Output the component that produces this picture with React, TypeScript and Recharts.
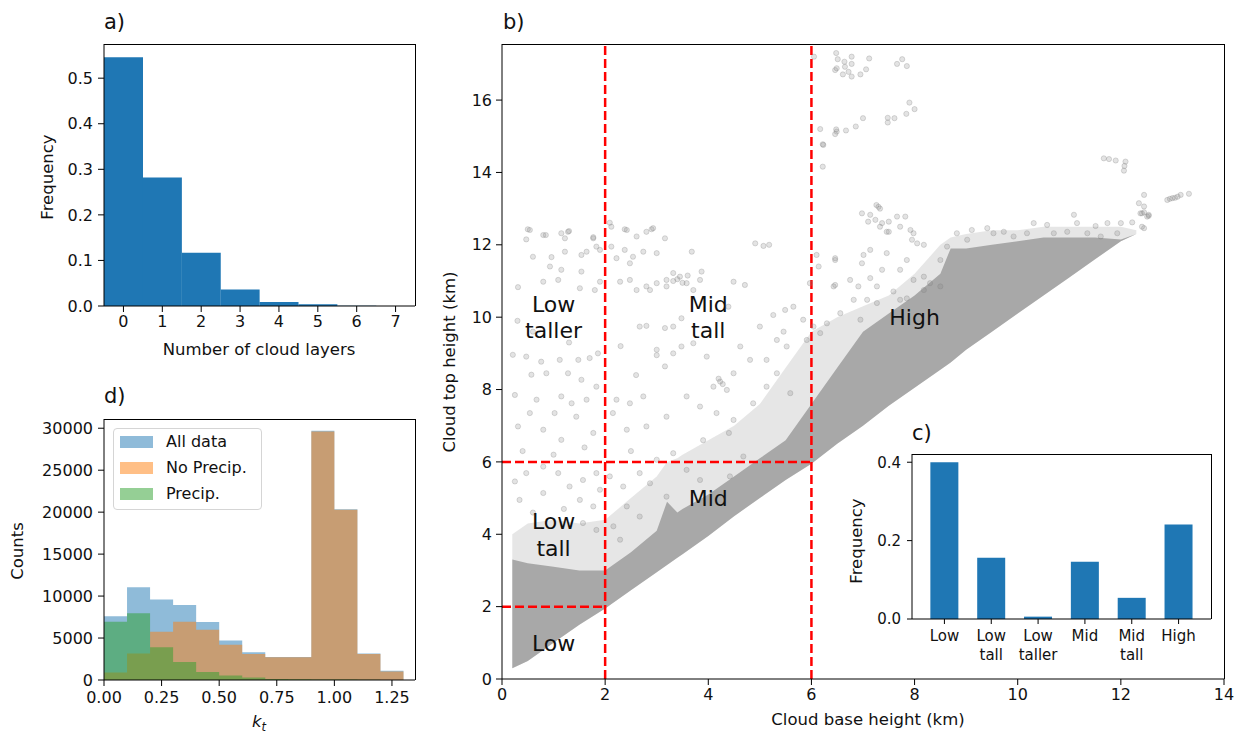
import React from "react";
import {
  BarChart,
  Bar,
  ComposedChart,
  Area,
  Scatter,
  XAxis,
  YAxis,
  ReferenceLine,
  ReferenceDot,
  Legend,
  CartesianGrid,
} from "recharts";

const FONT = "'DejaVu Sans', Verdana, sans-serif";
const INK = "#111";
const BLUE = "#1f77b4";

// a) number of cloud layers
const layerLabels = ["0", "1", "2", "3", "4", "5", "6", "7"];
const layerFreq = [0.546, 0.282, 0.117, 0.036, 0.009, 0.004, 0.0006, 0.0002];
const freqTicksA = [0, 0.1, 0.2, 0.3, 0.4, 0.5];

// d) clearness index histograms (bin edges, counts per bin)
const ktEdges = [0, 0.1, 0.2, 0.3, 0.4, 0.5, 0.6, 0.7, 0.8, 0.9, 1.0, 1.1, 1.2, 1.3];
const allCounts = [7600, 11050, 9600, 8950, 6900, 4700, 3300, 2750, 2750, 29700, 20350, 3150, 1100];
const noPrecipCounts = [900, 3150, 5750, 6950, 6000, 4200, 3100, 2700, 2700, 29600, 20300, 3100, 1000];
const precipCounts = [6950, 7950, 3900, 2150, 950, 550, 300, 120, 80, 60, 50, 30, 10];
const ktTicks = [0, 0.25, 0.5, 0.75, 1.0, 1.25];
const countTicks = [0, 5000, 10000, 15000, 20000, 25000, 30000];
const ktSeries = [
  { key: "all", name: "All data", color: "#1f77b4" },
  { key: "noPrecip", name: "No Precip.", color: "#ff7f0e" },
  { key: "precip", name: "Precip.", color: "#2ca02c" },
];

// c) frequency of cloud types
const cloudTypes = ["Low", "Low\ntall", "Low\ntaller", "Mid", "Mid\ntall", "High"];
const typeFreq = [0.4, 0.156, 0.006, 0.146, 0.054, 0.241];
const freqTicksC = [0, 0.2, 0.4];

// b) cloud base vs top: dense band (base, lower edge, core top, halo top)
const bandBase = [0.2, 0.5, 1, 1.5, 2, 2.5, 3, 3.2, 3.4, 3.5, 4, 4.5, 5, 5.5, 6, 6.5, 7, 7.5, 8, 8.5, 8.7, 9, 9.5, 10, 10.5, 11, 11.5, 12, 12.3];
const bandLow = [0.3, 0.5, 1.0, 1.5, 1.95, 2.45, 2.95, 3.15, 3.35, 3.45, 3.95, 4.5, 5.0, 5.5, 5.95, 6.5, 7.0, 7.55, 8.05, 8.55, 8.75, 9.1, 9.6, 10.1, 10.6, 11.1, 11.6, 12.1, 12.3];
const coreTop = [3.3, 3.2, 3.1, 3.0, 3.0, 3.5, 4.1, 4.9, 4.6, 4.7, 5.1, 5.6, 6.1, 6.6, 7.6, 8.6, 9.6, 10.1, 10.6, 11.2, 11.9, 11.9, 12.0, 12.1, 12.2, 12.2, 12.2, 12.15, 12.3];
const haloTop = [4.0, 4.3, 4.4, 4.3, 4.4, 5.0, 5.6, 6.0, 6.1, 6.2, 6.6, 7.0, 7.6, 8.6, 9.6, 10.0, 10.3, 10.6, 11.2, 12.0, 12.2, 12.3, 12.4, 12.4, 12.5, 12.5, 12.5, 12.5, 12.4];

// b) sparse points outside the dense band [base km, top km]
const sparsePoints: [number, number][] = [
  [6.48, 17.3], [6.78, 17.2], [7.12, 17.15], [6.51, 17.13], [6.64, 17.06], [6.78, 17.0], [6.49, 16.88], [6.65, 16.92],
  [6.61, 16.71], [6.78, 16.65], [6.95, 16.71], [7.06, 16.85], [6.72, 16.78], [7.66, 17.0], [7.76, 17.13], [7.85, 16.94],
  [6.05, 17.2], [6.46, 16.83],
  [6.17, 15.2], [6.22, 14.78], [6.22, 14.16], [6.48, 15.19], [6.46, 15.06], [6.67, 15.16], [6.86, 15.27], [7.0, 15.5],
  [7.48, 15.51], [7.61, 15.5], [7.48, 15.38], [7.84, 15.62], [7.9, 15.93], [8.0, 15.75], [6.23, 14.76], [6.49, 15.13],
  [11.67, 14.39], [11.77, 14.37], [11.9, 14.33], [12.09, 14.3], [12.07, 14.18], [12.06, 14.05],
  [12.9, 13.24], [13.0, 13.29], [13.1, 13.33], [13.16, 13.38], [13.32, 13.41], [12.95, 13.27], [13.05, 13.3],
  [12.45, 13.38], [12.35, 13.15], [12.45, 13.06], [12.54, 12.83], [12.41, 12.5], [12.45, 12.9], [12.41, 12.87],
  [12.54, 12.8], [12.45, 12.46],
  [6.98, 12.87], [7.14, 12.83], [7.26, 13.1], [7.33, 13.0], [7.24, 12.69], [7.37, 12.6], [7.5, 12.64], [7.66, 12.78],
  [7.82, 12.78], [7.92, 12.41], [7.98, 12.32], [7.72, 12.5], [7.5, 12.36], [7.1, 12.64], [7.3, 13.05], [7.33, 12.5],
  [7.46, 12.36], [7.95, 12.14], [8.05, 12.04], [8.18, 12.0],
  [9.11, 12.41], [9.41, 12.46], [9.73, 12.36], [10.31, 12.6], [10.57, 12.55], [11.09, 12.83], [11.15, 12.6],
  [11.51, 12.52], [11.74, 12.6], [12.0, 12.6], [12.22, 12.62], [12.38, 12.87], [12.51, 12.78],
  [0.5, 12.43], [0.47, 12.15], [0.8, 12.27], [1.15, 12.32], [1.28, 12.36], [0.6, 11.67], [0.96, 11.66], [1.22, 11.81],
  [1.54, 11.72], [1.64, 11.81], [1.77, 12.21], [1.83, 11.95], [1.9, 11.86], [0.93, 11.4], [1.15, 11.31], [1.54, 11.26],
  [0.8, 10.98], [1.09, 11.03], [0.31, 10.83], [1.51, 10.8], [1.8, 10.75], [1.9, 10.98], [0.54, 12.41], [0.85, 12.27],
  [1.22, 12.18], [1.3, 12.38], [1.77, 12.18],
  [2.12, 12.5], [2.42, 12.41], [2.61, 12.23], [2.8, 12.36], [2.93, 12.46], [2.12, 11.95], [2.38, 11.86], [2.54, 11.67],
  [2.74, 11.81], [3.0, 11.77], [3.16, 12.18], [3.68, 11.81], [2.22, 11.63], [2.48, 11.49], [2.29, 10.98], [2.48, 11.03],
  [2.61, 10.75], [2.8, 10.85], [3.0, 10.94], [3.19, 11.03], [3.32, 11.22], [3.45, 11.12], [3.19, 10.85], [3.58, 10.94],
  [3.84, 11.03], [3.87, 11.26], [3.32, 11.0], [3.71, 10.75], [4.49, 10.98], [4.71, 10.89], [4.91, 12.04], [5.07, 11.97],
  [5.18, 12.0], [2.87, 10.75], [2.09, 12.61], [2.38, 12.43], [2.9, 12.43], [3.4, 11.05], [3.5, 10.95], [3.6, 11.15],
  [2.67, 9.74], [2.8, 9.76], [3.16, 9.7], [3.32, 9.74], [3.48, 9.97], [4.39, 10.29], [5.0, 9.74], [5.26, 10.06],
  [5.49, 10.2], [5.65, 10.29], [5.46, 9.6],
  [0.21, 8.96], [0.47, 8.91], [0.76, 8.77], [1.12, 8.82], [1.48, 8.82], [1.7, 8.87], [1.86, 9.0], [0.57, 8.41],
  [0.86, 8.45], [1.28, 8.45], [1.54, 8.27], [0.25, 7.85], [0.67, 7.72], [1.15, 7.81], [1.35, 7.62], [1.64, 7.72],
  [1.83, 8.08], [0.54, 7.35], [1.02, 7.35], [1.44, 7.25], [0.31, 6.98], [0.8, 6.89], [1.15, 6.61], [1.77, 6.8],
  [0.4, 6.3], [1.0, 6.2], [1.6, 6.4], [0.6, 9.6], [1.3, 9.3], [0.3, 9.9],
  [2.22, 7.72], [2.48, 7.62], [2.74, 7.81], [3.0, 9.1], [3.0, 8.95], [3.16, 8.64], [3.32, 9.0], [3.48, 9.19],
  [3.71, 9.28], [3.97, 8.91], [4.23, 8.22], [4.1, 8.08], [4.36, 7.99], [4.49, 8.45], [4.62, 9.19], [4.81, 8.82],
  [5.13, 8.82], [5.33, 9.37], [5.52, 9.19], [3.84, 7.53], [4.16, 7.35], [4.49, 7.16], [3.58, 7.81], [3.19, 7.25],
  [2.8, 6.98], [2.42, 6.89], [2.15, 7.35], [4.87, 7.62], [5.13, 8.08], [5.33, 8.45], [5.59, 7.9], [2.6, 8.4],
  [2.3, 9.2], [4.2, 8.3], [4.28, 8.15],
  [0.25, 5.46], [0.47, 5.69], [0.8, 5.87], [1.09, 5.69], [1.31, 5.32], [1.57, 5.5], [1.83, 5.69], [0.34, 4.95],
  [0.8, 5.14], [1.51, 4.95], [1.77, 4.77], [1.9, 5.23], [1.57, 4.31], [1.83, 4.12], [0.6, 4.6], [1.2, 4.7],
  [2.09, 5.6], [2.35, 5.32], [2.67, 5.69], [2.87, 5.41], [2.42, 4.77], [2.67, 4.49], [2.16, 4.22], [2.29, 3.85],
  [3.0, 6.06], [3.32, 6.24], [3.58, 5.78], [3.84, 5.5], [3.19, 5.04], [4.42, 5.6], [4.68, 6.15], [2.5, 6.3],
  [3.9, 6.6], [4.4, 6.8],
  [6.46, 11.58], [7.01, 11.72], [7.14, 11.86], [7.46, 11.77], [7.85, 11.58], [6.98, 11.49], [7.37, 11.31], [6.75, 11.03],
  [6.91, 10.85], [7.14, 11.08], [7.27, 10.85], [7.72, 11.31], [7.98, 11.03], [8.18, 11.12], [6.46, 10.89], [7.59, 10.71],
  [7.85, 10.52], [7.72, 10.48], [8.18, 10.75], [7.08, 10.48], [6.82, 10.48], [7.27, 10.39], [6.56, 10.11], [6.3, 9.83],
  [6.04, 9.74], [6.95, 9.93], [5.84, 9.93], [5.91, 9.37], [6.17, 9.56], [8.63, 11.95], [8.5, 11.58], [8.3, 10.94],
  [8.5, 10.85], [8.82, 12.32], [9.02, 12.14], [9.53, 12.32], [9.92, 12.23], [10.18, 12.32], [10.7, 12.32],
  [10.96, 12.36], [11.35, 12.32], [11.61, 12.23], [11.93, 12.32], [6.1, 11.72], [6.14, 11.4], [6.46, 11.63],
  [6.43, 10.85], [5.97, 10.94],
];
const baseTicks = [0, 2, 4, 6, 8, 10, 12, 14];
const topTicks = [0, 2, 4, 6, 8, 10, 12, 14, 16];

// category boundaries (km)
const lowTop = 2;
const midTop = 6;
const lowBase = 2;
const highBase = 6;

const regionLabels = [
  { x: 1, y: 10, text: "Low\ntaller" },
  { x: 4, y: 10, text: "Mid\ntall" },
  { x: 8, y: 10, text: "High" },
  { x: 1, y: 4, text: "Low\ntall" },
  { x: 4, y: 5, text: "Mid" },
  { x: 1, y: 1, text: "Low" },
];

const layerRows = layerLabels.map((n, i) => ({ n, freq: layerFreq[i] }));
const ktRows = ktEdges.map((kt, i) => ({
  kt,
  all: allCounts[i] ?? 0,
  noPrecip: noPrecipCounts[i] ?? 0,
  precip: precipCounts[i] ?? 0,
}));
const typeRows = cloudTypes.map((t, i) => ({ t, freq: typeFreq[i] }));
const bandRows = bandBase.map((x, i) => ({
  x,
  core: [bandLow[i], coreTop[i]],
  halo: [bandLow[i], haloTop[i]],
}));
const sparseRows = sparsePoints.map(([x, y]) => ({ x, y }));

const tickStyle = { fontSize: 16, fill: INK, fontFamily: FONT };
const frameLine = { stroke: "#000", strokeWidth: 1 };
const tickLine = { stroke: "#000", strokeWidth: 1 };

function Text({ x, y, size = 16.5, rotate = false, children }: any) {
  return (
    <div
      style={{
        position: "absolute",
        left: x,
        top: y,
        transform: `translate(-50%, -50%)${rotate ? " rotate(-90deg)" : ""}`,
        fontFamily: FONT,
        fontSize: size,
        color: INK,
        whiteSpace: "nowrap",
        lineHeight: 1,
      }}
    >
      {children}
    </div>
  );
}

function PanelTag({ x, y, children }: any) {
  return (
    <div
      style={{
        position: "absolute",
        left: x,
        top: y,
        fontFamily: FONT,
        fontSize: 21,
        color: INK,
        lineHeight: 1,
      }}
    >
      {children}
    </div>
  );
}

// top and right spines of an axes box
function Frame({ left, top, right, bottom }: any) {
  return (
    <div
      style={{
        position: "absolute",
        left,
        top: top - 0.5,
        width: right - left + 0.5,
        height: bottom - top,
        borderTop: "1px solid #000",
        borderRight: "1px solid #000",
        boxSizing: "border-box",
        pointerEvents: "none",
      }}
    />
  );
}

function RegionText({ cx, cy, text }: any) {
  const fs = 22;
  const lh = 26.5;
  const lines = String(text).split("\n");
  const total = 0.73 * fs + (lines.length - 1) * lh;
  const y0 = cy - total / 2 + 0.73 * fs;
  return (
    <text textAnchor="middle" fontSize={fs} fontFamily={FONT} fill={INK}>
      {lines.map((l, i) => (
        <tspan key={i} x={cx} y={y0 + i * lh}>
          {l}
        </tspan>
      ))}
    </text>
  );
}

function TypeTick({ x, y, payload }: any) {
  const lines = String(payload.value).split("\n");
  return (
    <text x={x} y={y} textAnchor="middle" fontSize={15} fontFamily={FONT} fill={INK}>
      {lines.map((l, i) => (
        <tspan key={i} x={x} dy={i === 0 ? "0.95em" : "1.25em"}>
          {l}
        </tspan>
      ))}
    </text>
  );
}

function Dot({ cx, cy }: any) {
  return (
    <circle
      cx={cx}
      cy={cy}
      r={2.6}
      fill="#808080"
      fillOpacity={0.22}
      stroke="#808080"
      strokeOpacity={0.28}
      strokeWidth={1}
    />
  );
}

function KtLegend() {
  return (
    <div
      style={{
        width: 149,
        boxSizing: "border-box",
        background: "rgba(255,255,255,0.8)",
        border: "1px solid #d5d5d5",
        borderRadius: 4,
        padding: "0 6px 2px 6px",
        fontFamily: FONT,
        fontSize: 16,
        color: INK,
      }}
    >
      {ktSeries.map((s) => (
        <div key={s.key} style={{ display: "flex", alignItems: "center", height: 26 }}>
          <span
            style={{
              display: "inline-block",
              width: 33,
              height: 12,
              background: s.color,
              opacity: 0.5,
              marginRight: 13,
            }}
          />
          <span>{s.name}</span>
        </div>
      ))}
    </div>
  );
}

function LayersPanel() {
  return (
    <div style={{ position: "absolute", left: 0, top: 0 }}>
      <BarChart
        width={430}
        height={340}
        data={layerRows}
        margin={{ top: 44, right: 15, bottom: 4, left: 44 }}
        barCategoryGap={0}
        barGap={0}
      >
        <XAxis dataKey="n" height={30} tick={tickStyle} tickSize={6} tickMargin={4} axisLine={frameLine} tickLine={tickLine} />
        <YAxis
          width={60}
          type="number"
          domain={[0, 0.575]}
          ticks={freqTicksA}
          tickFormatter={(v: number) => v.toFixed(1)}
          tick={tickStyle}
          tickSize={6}
          tickMargin={5}
          axisLine={frameLine}
          tickLine={tickLine}
        />
        <Bar dataKey="freq" fill={BLUE} isAnimationActive={false} />
      </BarChart>
    </div>
  );
}

function KtPanel() {
  return (
    <div style={{ position: "absolute", left: 0, top: 380 }}>
      <ComposedChart width={430} height={340} data={ktRows} margin={{ top: 39, right: 15, bottom: 10, left: 34 }}>
        <XAxis
          dataKey="kt"
          type="number"
          domain={[0, 1.35]}
          ticks={ktTicks}
          tickFormatter={(v: number) => v.toFixed(2)}
          height={30}
          tick={tickStyle}
          tickSize={6}
          tickMargin={6}
          axisLine={frameLine}
          tickLine={tickLine}
        />
        <YAxis
          width={70}
          type="number"
          domain={[0, 31100]}
          ticks={countTicks}
          tick={tickStyle}
          tickSize={6}
          tickMargin={5}
          axisLine={frameLine}
          tickLine={tickLine}
        />
        {ktSeries.map((s) => (
          <Area
            key={s.key}
            dataKey={s.key}
            name={s.name}
            type="stepAfter"
            stroke="none"
            fill={s.color}
            fillOpacity={0.5}
            isAnimationActive={false}
          />
        ))}
        <Legend
          layout="vertical"
          align="center"
          verticalAlign="middle"
          wrapperStyle={{ left: 113, top: 47.7, width: 149, height: 82 }}
          content={() => <KtLegend />}
        />
      </ComposedChart>
    </div>
  );
}

function ScatterPanel() {
  return (
    <div style={{ position: "absolute", left: 420, top: 0 }}>
      <ComposedChart width={816} height={734} data={bandRows} margin={{ top: 44, right: 12, bottom: 25, left: 42 }}>
        <XAxis
          dataKey="x"
          type="number"
          domain={[0, 14]}
          ticks={baseTicks}
          height={30}
          tick={tickStyle}
          tickSize={6}
          tickMargin={4}
          axisLine={frameLine}
          tickLine={tickLine}
        />
        <YAxis
          dataKey="y"
          width={40}
          type="number"
          domain={[0, 17.55]}
          ticks={topTicks}
          tick={tickStyle}
          tickSize={6}
          tickMargin={4}
          axisLine={frameLine}
          tickLine={tickLine}
        />
        <Area dataKey="halo" type="linear" stroke="none" fill="#808080" fillOpacity={0.2} isAnimationActive={false} />
        <Area dataKey="core" type="linear" stroke="none" fill="#a8a8a8" fillOpacity={1} isAnimationActive={false} />
        <Scatter data={sparseRows} dataKey="y" shape={(p: any) => <Dot {...p} />} isAnimationActive={false} />
        <ReferenceLine x={lowBase} stroke="#ff0000" strokeWidth={2.5} strokeDasharray="9 4" />
        <ReferenceLine x={highBase} stroke="#ff0000" strokeWidth={2.5} strokeDasharray="9 4" />
        <ReferenceLine
          segment={[{ x: 0, y: midTop }, { x: highBase, y: midTop }]}
          stroke="#ff0000"
          strokeWidth={2.5}
          strokeDasharray="9 4"
        />
        <ReferenceLine
          segment={[{ x: 0, y: lowTop }, { x: lowBase, y: lowTop }]}
          stroke="#ff0000"
          strokeWidth={2.5}
          strokeDasharray="9 4"
        />
        {regionLabels.map((lab) => (
          <ReferenceDot
            key={lab.text}
            x={lab.x}
            y={lab.y}
            r={0}
            shape={(p: any) => <RegionText cx={p.cx} cy={p.cy} text={lab.text} />}
          />
        ))}
      </ComposedChart>
    </div>
  );
}

function TypesPanel() {
  return (
    <div style={{ position: "absolute", left: 840, top: 410 }}>
      <BarChart
        width={396}
        height={300}
        data={typeRows}
        margin={{ top: 44, right: 25, bottom: 46, left: 32 }}
        barCategoryGap="20%"
      >
        <CartesianGrid horizontal={false} vertical={false} fill="#fff" fillOpacity={1} />
        <XAxis
          dataKey="t"
          height={45}
          padding={{ left: 9, right: 9 }}
          interval={0}
          tick={<TypeTick />}
          tickSize={5}
          tickMargin={3}
          axisLine={frameLine}
          tickLine={tickLine}
        />
        <YAxis
          width={40}
          type="number"
          domain={[0, 0.421]}
          ticks={freqTicksC}
          tickFormatter={(v: number) => v.toFixed(1)}
          tick={{ ...tickStyle, fontSize: 15 }}
          tickSize={5}
          tickMargin={6}
          axisLine={frameLine}
          tickLine={tickLine}
        />
        <Bar dataKey="freq" fill={BLUE} isAnimationActive={false} />
      </BarChart>
    </div>
  );
}

export default function App() {
  return (
    <div
      style={{
        position: "absolute",
        left: 0,
        top: 0,
        width: 1236,
        height: 734,
        overflow: "hidden",
        background: "#fff",
      }}
    >
      <ScatterPanel />
      <Frame left={502} top={44} right={1224} bottom={679} />
      <LayersPanel />
      <Frame left={104} top={44} right={415} bottom={306} />
      <KtPanel />
      <Frame left={104} top={419} right={415} bottom={680} />
      <TypesPanel />
      <Frame left={912} top={454} right={1211} bottom={619} />

      <PanelTag x={104} y={12}>a)</PanelTag>
      <PanelTag x={104} y={386}>d)</PanelTag>
      <PanelTag x={503} y={12}>b)</PanelTag>
      <PanelTag x={912} y={423}>c)</PanelTag>

      <Text x={48} y={177} rotate>Frequency</Text>
      <Text x={259} y={350}>Number of cloud layers</Text>
      <Text x={18} y={551} rotate>Counts</Text>
      <Text x={259} y={722}>
        <span style={{ fontStyle: "italic" }}>k</span>
        <span style={{ fontStyle: "italic", fontSize: "0.7em", position: "relative", top: "0.35em" }}>t</span>
      </Text>
      <Text x={450} y={362} rotate>Cloud top height (km)</Text>
      <Text x={868} y={720}>Cloud base height (km)</Text>
      <Text x={857} y={541} rotate>Frequency</Text>
    </div>
  );
}
